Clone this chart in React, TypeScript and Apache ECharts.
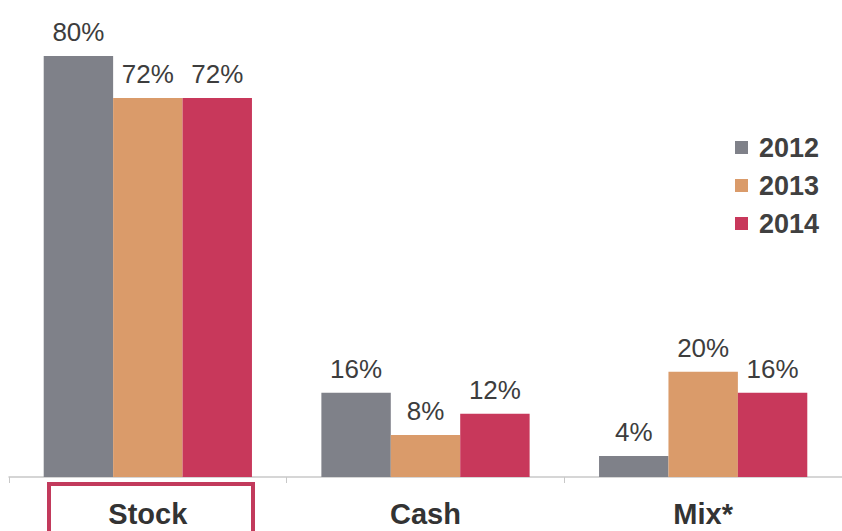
import React, { useEffect, useRef } from "react";
import * as echarts from "echarts";

const categories = ["Stock", "Cash", "Mix*"];
const years = ["2012", "2013", "2014"];
const values2012 = [80, 16, 4];
const values2013 = [72, 8, 20];
const values2014 = [72, 12, 16];
const colors = ["#7f8189", "#da9b6a", "#c8385b"];

export default function App() {
  const ref = useRef<HTMLDivElement>(null);
  useEffect(() => {
    document.body.style.margin = "0";
    const chart = echarts.init(ref.current!, null, { renderer: "svg" });
    const seriesData = [values2012, values2013, values2014];
    chart.setOption({
      animation: false,
      backgroundColor: "#ffffff",
      textStyle: { fontFamily: "Liberation Sans, Arial, sans-serif" },
      grid: { left: 9, top: 56, bottom: 54, width: 839 },
      legend: {
        orient: "vertical",
        left: 730,
        top: 129,
        itemWidth: 13,
        itemHeight: 13,
        itemGap: 11,
        icon: "rect",
        data: years,
        textStyle: {
          fontSize: 27,
          fontWeight: "bold",
          color: "#404040",
          padding: [0, 0, 0, 6],
        },
      },
      xAxis: {
        type: "category",
        data: categories,
        axisLine: { lineStyle: { color: "#c8c8c8", width: 1.5 } },
        axisTick: { show: true, length: 6, lineStyle: { color: "#c8c8c8" } },
        axisLabel: {
          margin: 22,
          fontSize: 29,
          fontWeight: "bold",
          color: "#333333",
        },
      },
      yAxis: {
        type: "value",
        min: 0,
        max: 80,
        show: false,
        splitLine: { show: false },
      },
      series: years.map((y, i) => ({
        name: y,
        type: "bar",
        data: seriesData[i],
        barGap: "0%",
        barCategoryGap: "25%",
        itemStyle: { color: colors[i] },
        label: {
          show: true,
          position: "top",
          distance: 11,
          formatter: "{c}%",
          fontSize: 26,
          color: "#3d3d3d",
        },
      })),
      graphic: [
        {
          type: "rect",
          shape: { x: 49, y: 484, width: 204, height: 60 },
          style: { fill: "none", stroke: "#c23a5c", lineWidth: 4 },
          z: 10,
        },
      ],
    });
    return () => chart.dispose();
  }, []);
  return <div ref={ref} style={{ width: 842, height: 531 }} />;
}
